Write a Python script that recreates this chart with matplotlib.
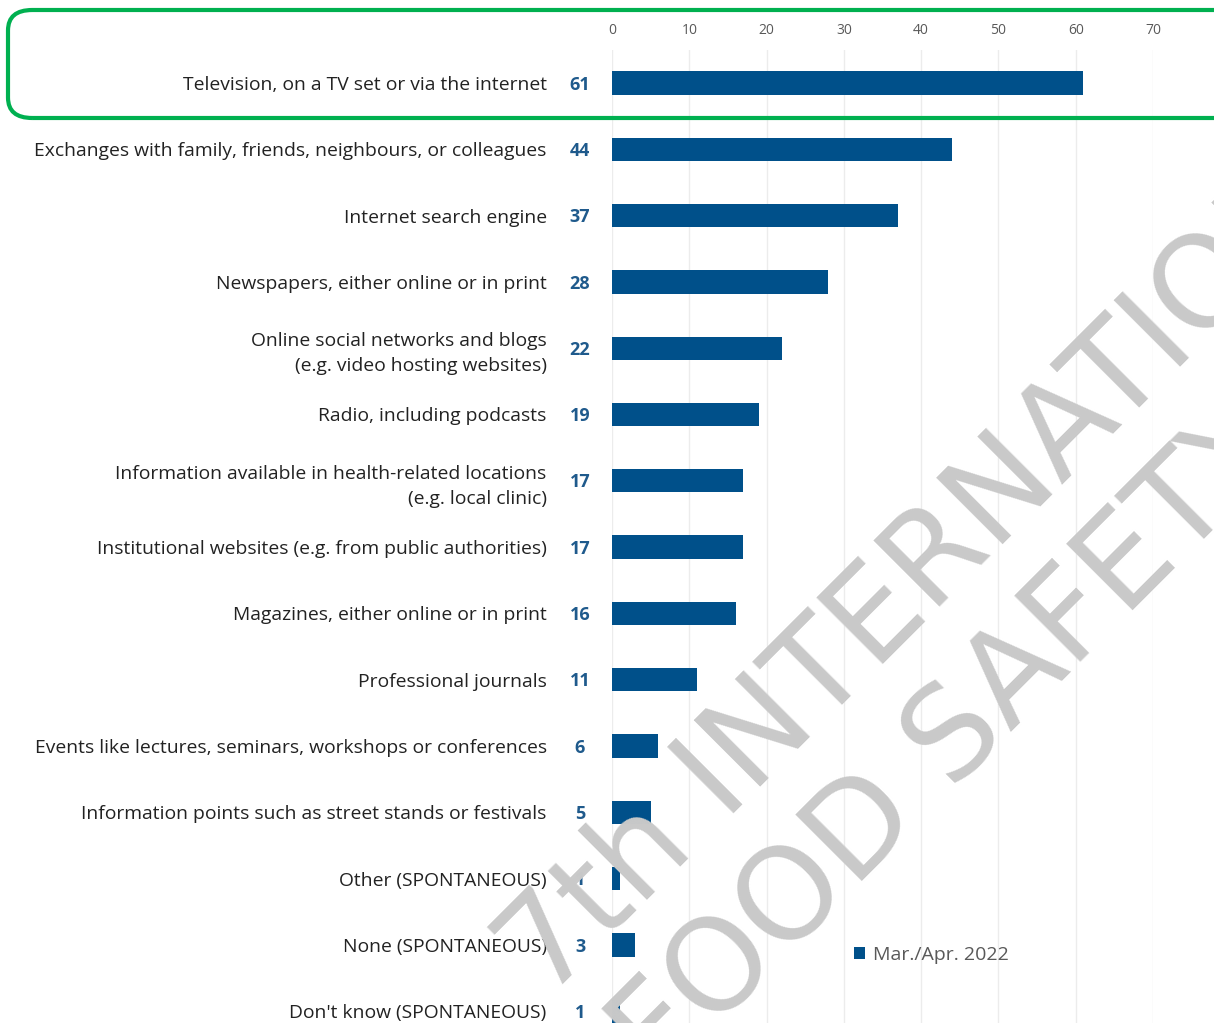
import matplotlib
matplotlib.use("Agg")
from matplotlib import pyplot as plt
from matplotlib.patches import FancyBboxPatch

categories = [
    "Television, on a TV set or via the internet",
    "Exchanges with family, friends, neighbours, or colleagues",
    "Internet search engine",
    "Newspapers, either online or in print",
    "Online social networks and blogs\n(e.g. video hosting websites)",
    "Radio, including podcasts",
    "Information available in health-related locations\n(e.g. local clinic)",
    "Institutional websites (e.g. from public authorities)",
    "Magazines, either online or in print",
    "Professional journals",
    "Events like lectures, seminars, workshops or conferences",
    "Information points such as street stands or festivals",
    "Other (SPONTANEOUS)",
    "None (SPONTANEOUS)",
    "Don't know (SPONTANEOUS)",
]
values = [61, 44, 37, 28, 22, 19, 17, 17, 16, 11, 6, 5, 1, 3, 1]
series_name = "Mar./Apr. 2022"
x_ticks = [0, 10, 20, 30, 40, 50, 60, 70]

bar_color = "#00508a"
label_blue = "#1f5a8c"
grey_text = "#595959"

W, H = 1214, 1023
fig = plt.figure(figsize=(W / 100, H / 100), dpi=100)
plt.rcParams['font.family'] = ['Open Sans', 'DejaVu Sans']

# axes: x 0 at px 612, 70 at px 1153; rows centred at 83 + 66.3*i
ax = fig.add_axes([612 / W, 0, (1153 - 612) / W, (H - 50) / H])
ypos = list(range(len(categories)))
ax.barh(ypos, values, height=0.35, color=bar_color, zorder=2, label=series_name)
ax.set_xlim(0, 70)
ax.set_ylim((1023 - 83) / 66.3, (50 - 83) / 66.3)

ax.xaxis.tick_top()
ax.set_xticks(x_ticks)
ax.tick_params(axis='x', length=0, pad=9, labelsize=10, labelcolor=grey_text)
ax.grid(axis='x', color='#ececec', linewidth=1, zorder=0)
ax.set_yticks(ypos)
ax.set_yticklabels(categories, fontsize=13.9, color='#222222', ha='right',
                   multialignment='right', linespacing=1.5)
ax.tick_params(axis='y', length=0, pad=47)
for s in ax.spines.values():
    s.set_visible(False)

for i, v in enumerate(values):
    ax.annotate(str(v), (0, i), xytext=(-23, -1.2), textcoords='offset points',
                ha='center', va='center', fontsize=13, fontweight='bold',
                color=label_blue)

leg = fig.legend(loc='center left', bbox_to_anchor=(836 / W, 1 - 955 / H),
                 frameon=False, fontsize=14, handlelength=0.6, handleheight=0.6,
                 handletextpad=0.4, labelcolor=grey_text)

# green highlight box around the first row
box = FancyBboxPatch((8 / W, 1 - 118 / H), (1240 - 8) / W, (118 - 10) / H,
                     boxstyle="round,pad=0,rounding_size=0.02",
                     transform=fig.transFigure, fill=False,
                     edgecolor='#00b050', linewidth=3, zorder=10)
fig.patches.append(box)

# watermark
wm = dict(rotation=45, rotation_mode='anchor', ha='left', va='baseline',
          fontsize=92, color='#c9c9c9', family='DejaVu Sans', zorder=20,
          transform=fig.transFigure)
fig.text(547 / W, 1 - 1001 / H, "7th INTERNATIONAL", **wm)
fig.text(660 / W, 1 - 1084 / H, "FOOD SAFETY", **wm)

plt.savefig("out.png", dpi=100)
